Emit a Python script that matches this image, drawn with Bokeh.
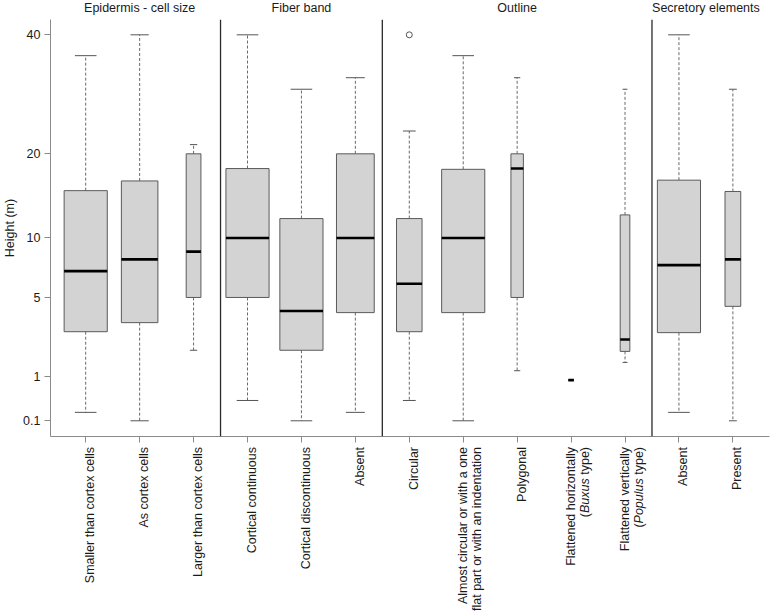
import numpy as np
from bokeh.plotting import figure
from bokeh.layouts import column
from bokeh.models import (Range1d, FixedTicker, CustomJSTickFormatter, Span,
                          ColumnDataSource)
from bokeh.core.properties import value
from bokeh.embed import file_html
from bokeh.resources import INLINE

# ---------------- data ----------------
group_titles = ["Epidermis - cell size", "Fiber band", "Outline", "Secretory elements"]
group_sizes = [3, 3, 5, 2]

tick_labels = [
    ["Smaller than cortex cells"], ["As cortex cells"], ["Larger than cortex cells"],
    ["Cortical continuous"], ["Cortical discontinuous"], ["Absent"],
    ["Circular"], ["Almost circular or with a one", "flat part or with an indentation"],
    ["Polygonal"], ["Flattened horizontally", "(*Buxus* type)"],
    ["Flattened vertically", "(*Populus* type)"],
    ["Absent"], ["Present"],
]

n_obs = [60, 43, 7, 60, 60, 46, 21, 60, 5, 1, 3, 60, 8]
lower_whisker = [0.2, 0.1, 2.0, 0.4, 0.1, 0.2, 0.4, 0.1, 1.2, 0.9, 1.5, 0.2, 0.1]
q1 = [2.9, 3.4, 5.0, 5.0, 2.0, 4.0, 2.9, 4.0, 5.0, 0.9, 1.95, 2.85, 4.4]
median = [7.0, 8.0, 8.7, 10.0, 4.1, 10.0, 6.0, 10.0, 18.0, 0.9, 2.5, 7.5, 8.0]
q3 = [15.2, 16.4, 20.0, 18.0, 12.0, 20.0, 12.0, 17.9, 20.0, 0.9, 12.4, 16.5, 15.1]
upper_whisker = [36.0, 40.0, 21.3, 40.0, 30.0, 32.0, 23.3, 36.0, 32.0, 0.9, 30.0, 40.0, 30.0]
outlier_pos = [7]
outlier_val = [40.0]

y_tick_values = [0.1, 1, 5, 10, 20, 40]

# ---------------- derived ----------------
FONT = "Liberation Sans"
FS = 12.5
TXT = "#1a1a1a"
pos = np.arange(1, len(n_obs) + 1, dtype=float)
nn = np.array(n_obs, dtype=float)
w = 0.8 * np.sqrt(nn / nn.max())
sq = lambda a: np.sqrt(np.array(a, dtype=float))

src = ColumnDataSource(dict(
    x=pos, left=pos - w / 2, right=pos + w / 2,
    sleft=pos - w / 4, sright=pos + w / 4,
    lo=sq(lower_whisker), q1=sq(q1), med=sq(median), q3=sq(q3), hi=sq(upper_whisker),
))

W = 770
BL, BR = 48, 1
xr = Range1d(0.3473, 13.679)
y0, y1 = 0.0716, 6.563


def strip(h):
    f = figure(width=W, height=h, x_range=xr, y_range=Range1d(-h, 0),
               output_backend="svg", toolbar_location=None, x_axis_type=None, y_axis_type=None,
               min_border_left=BL, min_border_right=BR, min_border_top=0, min_border_bottom=0)
    f.xgrid.visible = False
    f.ygrid.visible = False
    f.outline_line_color = None
    return f


# ---------------- group titles strip ----------------
TH = 19
top = strip(TH)
bounds = np.cumsum(group_sizes)
starts = np.concatenate([[0], bounds[:-1]]) + 1
centers = [float((s + e) / 2) for s, e in zip(starts, bounds)]
top.text(x=centers, y=[-7.0] * len(centers), text=group_titles,
         text_align="center", text_baseline="middle",
         text_font=value(FONT), text_font_size=value("12.5px"), text_color=TXT)

# ---------------- main plot ----------------
p = figure(width=W, height=427, x_range=xr, y_range=Range1d(y0, y1),
           output_backend="svg", toolbar_location=None,
           min_border_left=BL, min_border_right=BR, min_border_top=0, min_border_bottom=10)
p.xgrid.visible = False
p.ygrid.visible = False
p.outline_line_color = None

# bottom axis: ticks only (labels drawn beneath, with italics)
xa = p.xaxis[0]
xa.ticker = FixedTicker(ticks=list(pos))
xa.formatter = CustomJSTickFormatter(code="return '';")
xa.major_label_text_font_size = "0px"
xa.major_label_standoff = 0
xa.major_tick_out = 6
xa.major_tick_in = 0
xa.minor_tick_line_color = None
xa.axis_line_color = "#8a8a8a"
xa.major_tick_line_color = "#8a8a8a"

# left axis, square-root scale
ya = p.yaxis[0]
ya.ticker = FixedTicker(ticks=list(np.sqrt(y_tick_values)))
ya.formatter = CustomJSTickFormatter(
    code="var v = tick*tick; return v < 0.95 ? v.toFixed(1) : Math.round(v).toString();")
ya.major_tick_out = 6
ya.major_tick_in = 0
ya.minor_tick_line_color = None
ya.axis_line_color = "#8a8a8a"
ya.major_tick_line_color = "#8a8a8a"
ya.major_label_text_font = FONT
ya.major_label_text_font_size = "12.5px"
ya.major_label_text_color = TXT
ya.major_label_standoff = 4
ya.axis_label = "Height (m)"
ya.axis_label_text_font = FONT
ya.axis_label_text_font_size = "12.5px"
ya.axis_label_text_font_style = "normal"
ya.axis_label_text_color = TXT
ya.axis_label_standoff = 3

# whiskers
p.segment(x0="x", y0="q3", x1="x", y1="hi", source=src, line_color="#6a6a6a",
          line_width=1, line_dash="3 2")
p.segment(x0="x", y0="q1", x1="x", y1="lo", source=src, line_color="#6a6a6a",
          line_width=1, line_dash="3 2")
# staples
p.segment(x0="sleft", y0="hi", x1="sright", y1="hi", source=src, line_color="#555555", line_width=1)
p.segment(x0="sleft", y0="lo", x1="sright", y1="lo", source=src, line_color="#555555", line_width=1)
# boxes
p.quad(left="left", right="right", bottom="q1", top="q3", source=src,
       fill_color="#d3d3d3", line_color="#5a5a5a", line_width=1)
# medians
p.segment(x0="left", y0="med", x1="right", y1="med", source=src, line_color="black", line_width=2.6)
# outliers
p.scatter(x=outlier_pos, y=list(sq(outlier_val)), marker="circle", size=6,
          fill_color=None, line_color="#555555", line_width=1)

# group separators
for b in bounds[:-1]:
    p.add_layout(Span(location=float(b) + 0.5, dimension="height",
                      line_color="#2a2a2a", line_width=1.3))

# ---------------- category labels strip ----------------
LH = 166
q = strip(LH)

AW = {' ': 278, '\u00a0': 278, '(': 333, ')': 333, '-': 333, '.': 278,
      'a': 556, 'b': 556, 'c': 500, 'd': 556, 'e': 556, 'f': 278, 'g': 556, 'h': 556,
      'i': 222, 'j': 222, 'k': 500, 'l': 222, 'm': 833, 'n': 556, 'o': 556, 'p': 556,
      'q': 556, 'r': 333, 's': 500, 't': 278, 'u': 556, 'v': 500, 'w': 722, 'x': 500,
      'y': 500, 'z': 500, 'B': 667, 'P': 667}


def tw(s):
    return sum(AW.get(c, 556) for c in s) * FS / 1000.0


def runs(line):
    parts = line.split("*")
    out = []
    for i, seg in enumerate(parts):
        if not seg:
            continue
        # keep edge spaces visible when a line is split into font runs
        if seg[0] == " ":
            seg = "\u00a0" + seg[1:]
        if seg[-1] == " ":
            seg = seg[:-1] + "\u00a0"
        out.append((seg, "italic" if i % 2 else "normal"))
    return out


rows = {"normal": dict(x=[], y=[], text=[], xo=[]), "italic": dict(x=[], y=[], text=[], xo=[])}
for xi, lines in zip(pos, tick_labels):
    offs = [4.5] if len(lines) == 1 else [-0.5, 14.2]
    for line, xo in zip(lines, offs):
        acc = 0.0
        for seg, style in reversed(runs(line)):
            r = rows[style]
            r["x"].append(float(xi))
            r["y"].append(-0.5 - acc)
            r["text"].append(seg)
            r["xo"].append(xo)
            acc += tw(seg)

for style, r in rows.items():
    q.text(x="x", y="y", text="text", x_offset="xo", source=ColumnDataSource(r),
           angle=np.pi / 2, text_align="right", text_baseline="alphabetic",
           text_font=value(FONT), text_font_size=value("12.5px"),
           text_font_style=style, text_color=TXT)

layout = column(top, p, q, spacing=0)
open("out.html", "w").write(file_html(layout, INLINE))
